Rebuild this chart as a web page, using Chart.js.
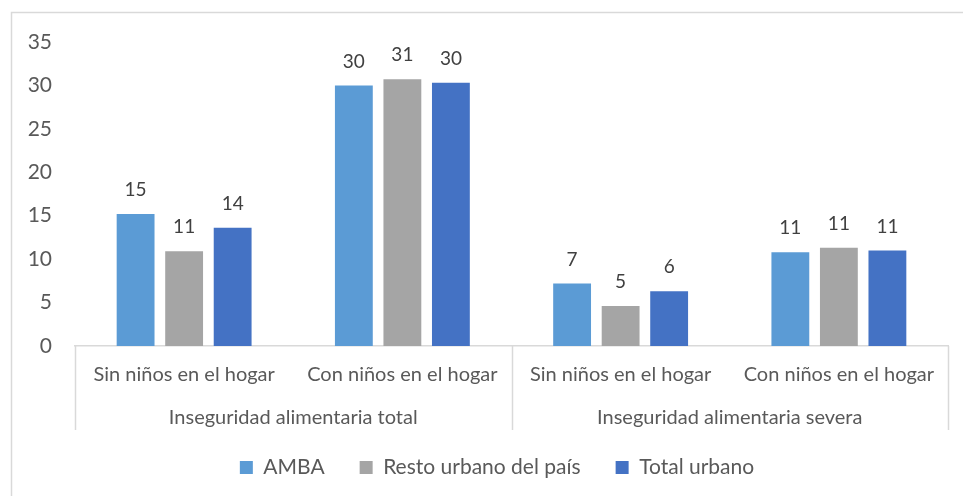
<!DOCTYPE html>
<html>
<head>
<meta charset="utf-8">
<script src="https://cdn.jsdelivr.net/npm/chart.js@4"></script>
<style>
html,body{margin:0;padding:0;background:#fff;}
#wrap{width:963px;height:496px;position:relative;}
</style>
</head>
<body>
<div id="wrap"><canvas id="c" width="963" height="496"></canvas></div>
<script>
const categories = ["Sin niños en el hogar", "Con niños en el hogar", "Sin niños en el hogar", "Con niños en el hogar"];
const groups = ["Inseguridad alimentaria total", "Inseguridad alimentaria severa"];
const ambaValues = [15.2, 30.0, 7.2, 10.8];
const restoValues = [10.9, 30.7, 4.6, 11.3];
const totalValues = [13.6, 30.3, 6.3, 11.0];
const yTicks = [0, 5, 10, 15, 20, 25, 30, 35];

const FONT = "Lato, 'Open Sans', sans-serif";
const TXT = "#595959";

const framePlugin = {
  id: "frame",
  beforeDraw(chart) {
    const ctx = chart.ctx;
    ctx.save();
    ctx.fillStyle = "#fff";
    ctx.fillRect(0, 0, chart.width, chart.height);
    ctx.strokeStyle = "#D9D9D9";
    ctx.lineWidth = 1.5;
    ctx.beginPath();
    ctx.moveTo(11.5, chart.height + 2);
    ctx.lineTo(11.5, 12.5);
    ctx.lineTo(chart.width + 2, 12.5);
    ctx.stroke();
    ctx.restore();
  }
};

const legendShift = {
  id: "legendShift",
  afterLayout(chart) {
    const lg = chart.legend;
    if (lg) { lg.left += 23; lg.right += 23; }
  }
};

const groupPlugin = {
  id: "groups",
  afterDraw(chart) {
    const ctx = chart.ctx;
    const xs = chart.scales.x;
    const area = chart.chartArea;
    const step = (xs.getPixelForValue(1) - xs.getPixelForValue(0));
    ctx.save();
    ctx.strokeStyle = "#D9D9D9";
    ctx.lineWidth = 1.5;
    const bottom = area.bottom + 84;
    [0, 2, 4].forEach(i => {
      const px = Math.round(xs.getPixelForValue(0) - step / 2 + i * step) + 0.5;
      ctx.beginPath();
      ctx.moveTo(px, area.bottom);
      ctx.lineTo(px, bottom);
      ctx.stroke();
    });
    ctx.fillStyle = TXT;
    ctx.font = "20px " + FONT;
    ctx.textAlign = "center";
    ctx.textBaseline = "middle";
    groups.forEach((g, gi) => {
      const cx = (xs.getPixelForValue(gi * 2) + xs.getPixelForValue(gi * 2 + 1)) / 2;
      ctx.fillText(g, cx, area.bottom + 72);
    });
    // data labels
    ctx.fillStyle = "#404040";
    ctx.font = "19px " + FONT;
    chart.data.datasets.forEach((ds, di) => {
      const meta = chart.getDatasetMeta(di);
      meta.data.forEach((bar, i) => {
        ctx.fillText(Math.round(ds.data[i]).toString(), bar.x, bar.y - 24);
      });
    });
    ctx.restore();
  }
};

new Chart(document.getElementById("c"), {
  type: "bar",
  data: {
    labels: categories,
    datasets: [
      { label: "AMBA", data: ambaValues, backgroundColor: "#5B9BD5" },
      { label: "Resto urbano del país", data: restoValues, backgroundColor: "#A5A5A5" },
      { label: "Total urbano", data: totalValues, backgroundColor: "#4472C4" }
    ]
  },
  options: {
    responsive: false,
    animation: false,
    devicePixelRatio: 1,
    layout: { padding: { top: 42, right: 15, left: 0, bottom: 8 } },
    datasets: { bar: { categoryPercentage: 0.667, barPercentage: 0.78 } },
    plugins: {
      legend: {
        position: "bottom",
        labels: {
          boxWidth: 13, boxHeight: 13, padding: 35,
          color: TXT, font: { family: FONT, size: 21 }
        }
      },
      tooltip: { enabled: false }
    },
    scales: {
      y: {
        min: 0, max: 35,
        afterBuildTicks(scale) { scale.ticks = yTicks.map(v => ({ value: v })); },
        afterFit(scale) { scale.width = 75; },
        grid: { display: false, drawTicks: false },
        border: { display: false },
        ticks: { padding: 23, color: TXT, font: { family: FONT, size: 21 } }
      },
      x: {
        afterFit(scale) { scale.height = 76; },
        grid: { display: false, drawTicks: false },
        border: { display: true, color: "#D9D9D9", width: 1.5 },
        ticks: { padding: 17, color: TXT, font: { family: FONT, size: 20 }, maxRotation: 0, autoSkip: false }
      }
    }
  },
  plugins: [framePlugin, legendShift, groupPlugin]
});
</script>
</body>
</html>
